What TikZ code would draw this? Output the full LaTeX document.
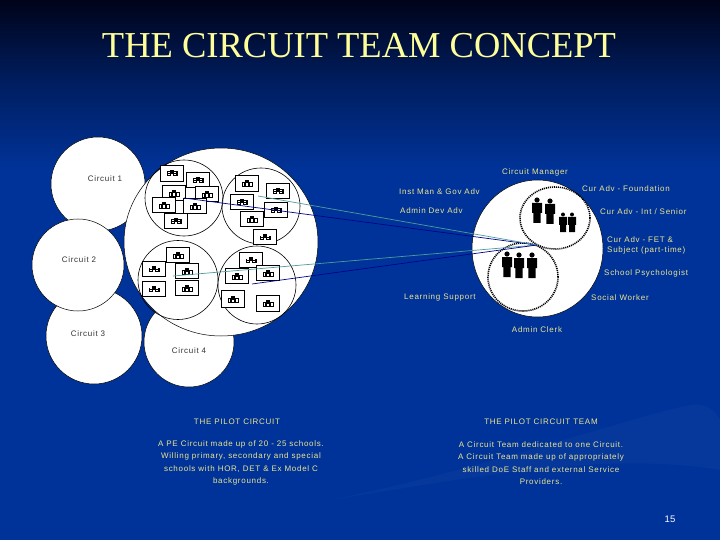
\documentclass[tikz,border=0pt]{standalone}
\usepackage{fontspec}
\setmainfont{Liberation Sans}
\newfontfamily\titlefont{Liberation Serif}
\newfontfamily\labfont[LetterSpace=9]{Liberation Sans}
\usetikzlibrary{shapes.geometric}
\definecolor{bgtop}{HTML}{00031A}
\definecolor{bgmid}{HTML}{001D5E}
\definecolor{bgblue}{HTML}{003399}
\definecolor{swoosh}{HTML}{0A3C9E}
\definecolor{titlecol}{HTML}{FFFF99}
\definecolor{labcol}{HTML}{EDE58F}
\definecolor{tealline}{HTML}{4F9C9C}
\definecolor{navyline}{HTML}{000090}
\definecolor{inkgrey}{HTML}{333333}
\tikzset{
  disc/.style={ellipse,draw=black,line width=0.5pt,fill=white,inner sep=0pt},
  ring/.style={ellipse,draw=black,line width=0.6pt,inner sep=0pt},
  dotring/.style={ellipse,draw=black,line width=1.6pt,dash pattern=on 1.1pt off 0.9pt,inner sep=0pt},
  schoolbox/.style={rectangle,draw=black,line width=0.7pt,fill=white,inner sep=0pt,minimum width=23.5pt,minimum height=14.5pt},
  circlabel/.style={font=\labfont\fontsize{8}{10}\selectfont,text=inkgrey,inner sep=0pt},
  lab/.style={font=\labfont\fontsize{8}{10}\selectfont,text=labcol,inner sep=0pt},
  labl/.style={lab,anchor=west,align=left},
  para/.style={lab,align=center},
  tealcon/.style={draw=tealline,line width=0.7pt},
  navycon/.style={draw=navyline,line width=0.7pt},
  housea/.pic={
    \draw[black,line width=0.9pt] (-5,3) rectangle (5,-1);
    \fill[black] (-1.6,3) rectangle (1.6,-3);
    \fill[white] (-0.7,3) rectangle (0.7,0.5);
    \draw[black,line width=0.8pt] (-2.8,3) -- (-2.8,0);
    \draw[black,line width=0.8pt] (2.8,3) -- (2.8,0);
  },
  houseb/.pic={
    \fill[black] (-5.5,3) rectangle (5.5,-1.5);
    \fill[black] (-2,-1.5) rectangle (2,-3);
    \fill[white] (-3.8,0.2) rectangle (-1.8,-0.6);
    \fill[white] (-3.8,2.2) rectangle (-1.8,1.2);
    \fill[white] (1.8,0.2) rectangle (3.8,-0.6);
    \fill[white] (1.8,2.2) rectangle (3.8,1.2);
    \fill[white] (-0.6,3) rectangle (0.6,1);
  },
  personbig/.pic={
    \fill[black] (0,-10) circle (2.6);
    \fill[black] (-5,-7) -- (5,-7) -- (5,3) -- (3.6,3) -- (3.6,13) -- (-3.6,13) -- (-3.6,3) -- (-5,3) -- cycle;
  },
  personsmall/.pic={
    \fill[black] (0,-7.5) circle (2);
    \fill[black] (-4,-5) -- (4,-5) -- (4,3) -- (3,3) -- (3,10) -- (-3,10) -- (-3,3) -- (-4,3) -- cycle;
  },
}
\begin{document}
\begin{tikzpicture}[x=1pt,y=-1pt]
\useasboundingbox (0,0) rectangle (720,540);
% background
\shade[top color=bgtop,bottom color=bgmid,shading angle=0] (0,0) rectangle (720,80.5);
\shade[top color=bgmid,bottom color=bgblue,shading angle=0] (0,80) rectangle (720,170.5);
\fill[bgblue] (0,170) rectangle (720,540);
\fill[swoosh,opacity=0.6] (330,500) .. controls (480,470) and (620,420) .. (690,405)
  .. controls (705,402) and (715,410) .. (720,420) -- (720,470)
  .. controls (600,450) and (460,480) .. (330,500) -- cycle;
% title
\node[font=\titlefont\fontsize{36.5}{40}\selectfont,text=titlecol,inner sep=0pt] (title) at (359,46) {THE CIRCUIT TEAM CONCEPT};
% circuit discs
\node[disc,minimum width=94pt,minimum height=94pt] (c1) at (98,184) {};
\node[disc,minimum width=96pt,minimum height=96pt] (c3) at (94,336) {};
\node[disc,minimum width=92pt,minimum height=92pt] (c2) at (78,265) {};
\node[disc,minimum width=90pt,minimum height=90pt] (c4) at (189,342) {};
\node[disc,minimum width=194pt,minimum height=188pt] (main) at (221,242) {};
% inner rings
\node[ring,minimum width=78pt,minimum height=76pt] (r1) at (184,198) {};
\node[ring,minimum width=78pt,minimum height=76pt] (r2) at (261,206) {};
\node[ring,minimum width=80pt,minimum height=79pt] (r3) at (178,280) {};
\node[ring,minimum width=78pt,minimum height=78pt] (r4) at (257,285) {};
% school boxes
\node[schoolbox,minimum height=16pt] (b1) at (172,173) {};
\node[schoolbox,minimum height=15pt] (b2) at (198,180) {};
\node[schoolbox] (b3) at (174,193) {};
\node[schoolbox] (b4) at (207,194) {};
\node[schoolbox] (b5) at (164,205) {};
\node[schoolbox] (b6) at (195,206) {};
\node[schoolbox] (b7) at (176,221) {};
\node[schoolbox,minimum height=16pt] (b8) at (247,183) {};
\node[schoolbox] (b9) at (278,191) {};
\node[schoolbox] (b10) at (242,202) {};
\node[schoolbox] (b11) at (276,210) {};
\node[schoolbox] (b12) at (252,219) {};
\node[schoolbox] (b13) at (265,237) {};
\node[schoolbox] (b14) at (178,255) {};
\node[schoolbox] (b15) at (154,269) {};
\node[schoolbox] (b16) at (187,271) {};
\node[schoolbox,minimum height=15.5pt] (b17) at (154,289) {};
\node[schoolbox,minimum height=15.5pt] (b18) at (187,288) {};
\node[schoolbox] (b19) at (251,260) {};
\node[schoolbox] (b20) at (237,276) {};
\node[schoolbox] (b21) at (268,273) {};
\node[schoolbox,minimum height=17pt] (b22) at (233,299) {};
\node[schoolbox,minimum height=16pt] (b23) at (268,303) {};
\foreach \n in {1,2,9,10,7,11,13,15,17,19}{\pic at (b\n.center) {houseb};}
\foreach \n in {3,4,5,6,8,12,14,16,18,20,21,22,23}{\pic at (b\n.center) {housea};}
% right oval
\node[disc,minimum width=131pt,minimum height=137pt] (team) at (537.5,248.5) {};
\node[dotring,minimum width=70pt,minimum height=62pt] (t1) at (555,218) {};
\node[dotring,minimum width=70pt,minimum height=68pt] (t2) at (523,277) {};
% people
\pic at (537,210) {personbig};
\pic at (550,211) {personbig};
\pic at (563,222) {personsmall};
\pic at (572,222) {personsmall};
\pic at (507,264) {personbig};
\pic at (519,265) {personbig};
\pic at (532,265) {personbig};
% connectors
\coordinate (hub) at (537,245);
\coordinate (a1) at (184,198);
\coordinate (a2) at (258,196);
\coordinate (a3) at (173,276);
\coordinate (a4) at (252,284);
\draw[navycon] (a1) -- (hub);
\draw[tealcon] (a2) -- (hub);
\draw[tealcon] (a3) -- (hub);
\draw[navycon] (a4) -- (hub);
% circuit labels
\node[circlabel] (l1) at (105,178.5) {Circuit 1};
\node[circlabel] (l2) at (79,260) {Circuit 2};
\node[circlabel] (l3) at (88,334) {Circuit 3};
\node[circlabel] (l4) at (189,351) {Circuit 4};
% team labels
\node[lab] (m0) at (535,172) {Circuit Manager};
\node[labl] (m1) at (399,191.5) {Inst Man \& Gov Adv};
\node[labl] (m2) at (400,211) {Admin Dev Adv};
\node[labl] (m3) at (582,188.5) {Cur Adv - Foundation};
\node[labl] (m4) at (600,211.5) {Cur Adv - Int / Senior};
\node[labl] (m5) at (607,245) {Cur Adv - FET \&\\Subject (part-time)};
\node[labl] (m6) at (604,273.5) {School Psychologist};
\node[labl] (m7) at (404,297.5) {Learning Support};
\node[labl] (m8) at (591,297.5) {Social Worker};
\node[lab] (m9) at (537,329.5) {Admin Clerk};
% bottom texts
\node[lab] (h1) at (237,421.5) {THE PILOT CIRCUIT};
\node[lab] (h2) at (541,421.5) {THE PILOT CIRCUIT TEAM};
\tikzset{every node/.append style={}}
\node[para,font=\labfont\fontsize{8}{12.4}\selectfont] (p1) at (241,463) {A PE Circuit made up of 20 - 25 schools.\\Willing primary, secondary and special\\schools with HOR, DET \& Ex Model C\\backgrounds.};
\node[para,font=\labfont\fontsize{8}{12.4}\selectfont] (p2) at (541,463) {A Circuit Team dedicated to one Circuit.\\A Circuit Team made up of appropriately\\skilled DoE Staff and external Service\\Providers.};
\node[font=\fontsize{9.5}{11}\selectfont,text=white,inner sep=0pt] (pg) at (670,519) {15};
\end{tikzpicture}
\end{document}
